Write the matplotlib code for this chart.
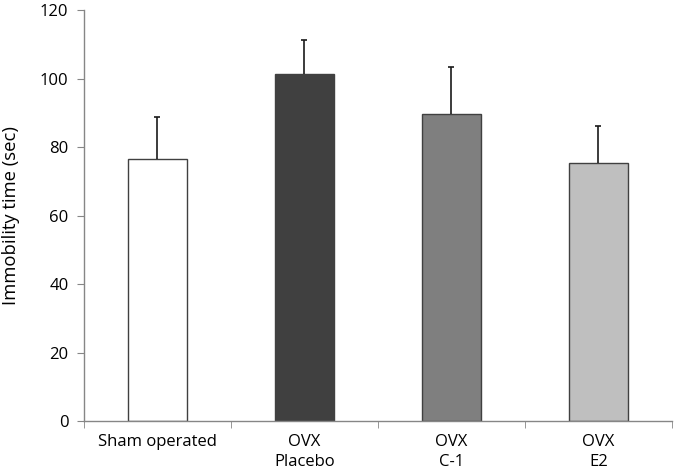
import matplotlib
matplotlib.use("Agg")
import matplotlib.pyplot as plt
import numpy as np

categories = ["Sham operated", "OVX\nPlacebo", "OVX\nC-1", "OVX\nE2"]
means = [76.6, 101.4, 89.5, 75.4]
errors = [12.2, 9.7, 13.8, 10.8]
colors = ["#ffffff", "#404040", "#7f7f7f", "#bfbfbf"]
yticks = [0, 20, 40, 60, 80, 100, 120]

plt.rcParams['font.family'] = ['Open Sans', 'DejaVu Sans']

fig = plt.figure(figsize=(6.75, 4.76), dpi=100)
ax = fig.add_axes([0.124, 0.1155, 0.8715, 0.8635])

x = np.arange(len(categories))
ax.bar(x, means, width=0.4, color=colors, edgecolor="#404040", linewidth=1.0, zorder=2)
eb = ax.errorbar(x, means, yerr=[np.zeros(len(errors)), errors], fmt='none',
                 ecolor="#1a1a1a", elinewidth=1.2, capsize=2.5, capthick=1.2, zorder=3)
caps = eb[1]
if len(caps) >= 2:
    caps[0].set_visible(False)

ax.set_xlim(-0.5, len(categories) - 0.5)
ax.set_ylim(0, 120)
ax.set_yticks(yticks)
ax.set_yticklabels([str(t) for t in yticks], fontsize=12)

ax.set_xticks(x)
ax.set_xticklabels(categories, fontsize=12, linespacing=1.35)
ax.tick_params(axis='x', which='major', length=0, pad=9)
ax.set_xticks(np.arange(len(categories) + 1) - 0.5, minor=True)
ax.tick_params(axis='x', which='minor', length=5, color="#868686", direction='out')
ax.tick_params(axis='y', length=5, color="#868686", direction='out', pad=6)

for s in ['top', 'right']:
    ax.spines[s].set_visible(False)
for s in ['left', 'bottom']:
    ax.spines[s].set_color("#868686")
    ax.spines[s].set_linewidth(1.0)

ax.set_ylabel("Immobility time (sec)", fontsize=13.3, labelpad=14)

fig.savefig("out.png", dpi=100)
